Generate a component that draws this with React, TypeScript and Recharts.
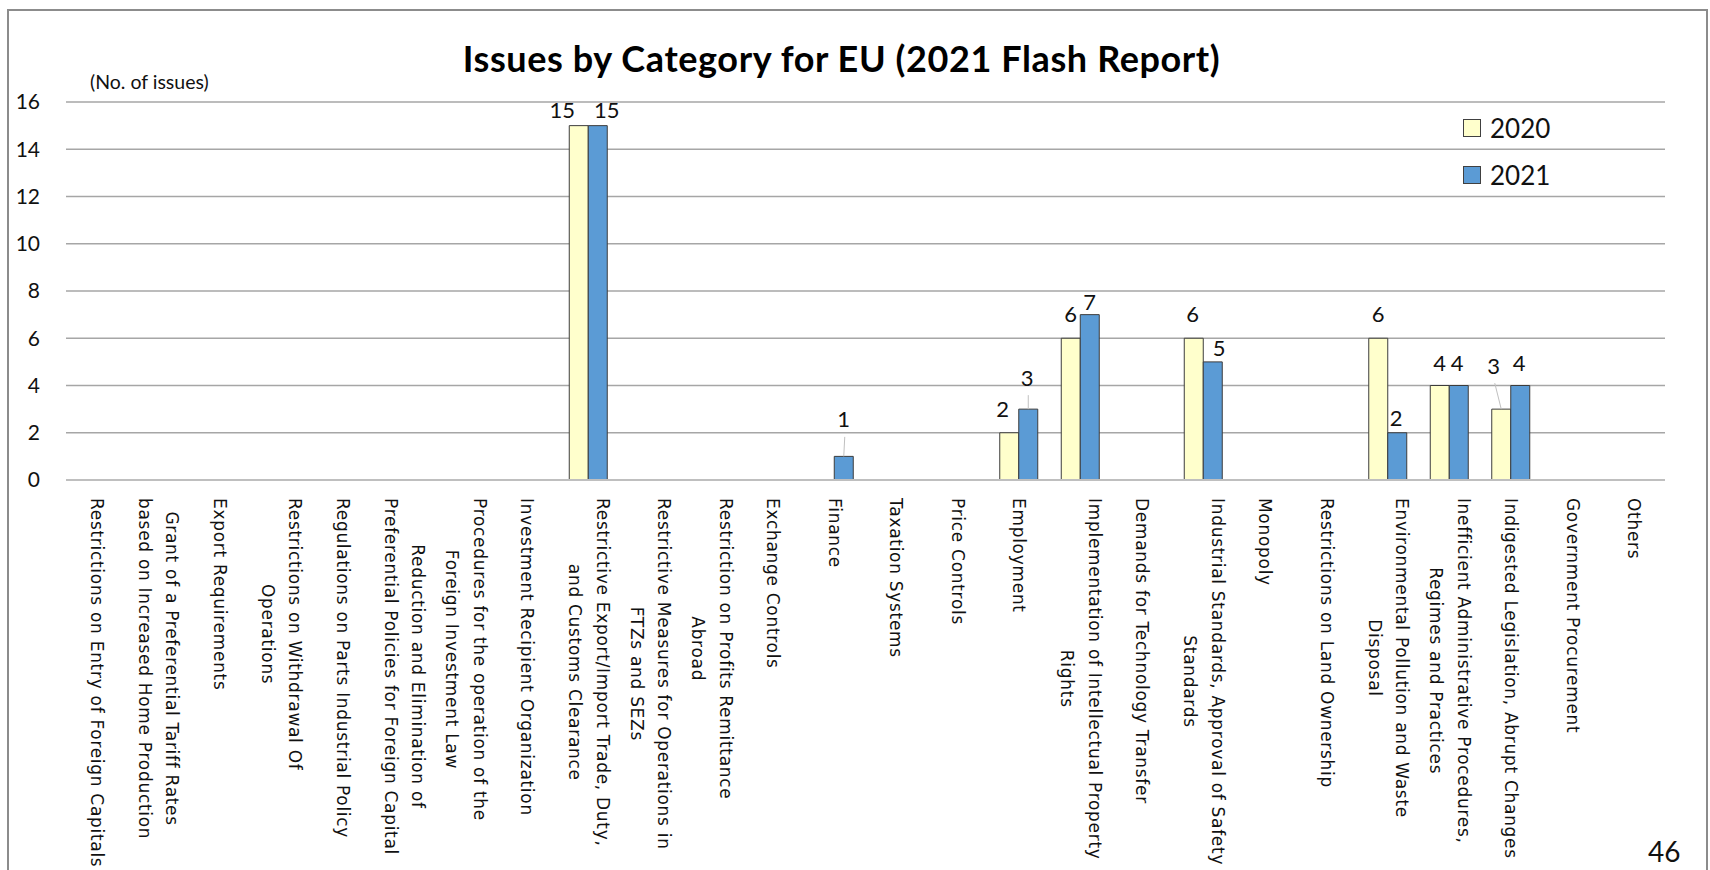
import React from "react";
import { BarChart, Bar, XAxis, YAxis, CartesianGrid, Legend, LabelList } from "recharts";

if (typeof document !== "undefined") {
  document.body.style.margin = "0";
  document.body.style.overflow = "hidden";
}

// ---------- data ----------
const categories: string[] = [
  "Restrictions on Entry of Foreign Capitals",
  "Grant of a Preferential Tariff Rates\nbased on Increased Home Production",
  "Export Requirements",
  "Restrictions on Withdrawal Of\nOperations",
  "Regulations on Parts Industrial Policy",
  "Reduction and Elimination of\nPreferential Policies for Foreign Capital",
  "Procedures for the operation of the\nForeign Investment Law",
  "Investment Recipient Organization",
  "Restrictive Export/Import Trade, Duty,\nand Customs Clearance",
  "Restrictive Measures for Operations in\nFTZs and SEZs",
  "Restriction on Profits Remittance\nAbroad",
  "Exchange Controls",
  "Finance",
  "Taxation Systems",
  "Price Controls",
  "Employment",
  "Implementation of Intellectual Property\nRights",
  "Demands for Technology Transfer",
  "Industrial Standards, Approval of Safety\nStandards",
  "Monopoly",
  "Restrictions on Land Ownership",
  "Environmental Pollution and Waste\nDisposal",
  "Inefficient Administrative Procedures,\nRegimes and Practices",
  "Indigested Legislation, Abrupt Changes",
  "Government Procurement",
  "Others",
];

const issues2020: number[] = [0, 0, 0, 0, 0, 0, 0, 0, 15, 0, 0, 0, 0, 0, 0, 2, 6, 0, 6, 0, 0, 6, 4, 3, 0, 0];
const issues2021: number[] = [0, 0, 0, 0, 0, 0, 0, 0, 15, 0, 0, 0, 1, 0, 0, 3, 7, 0, 5, 0, 0, 2, 4, 4, 0, 0];
const seriesNames: string[] = ["2020", "2021"];
const yTicks: number[] = [0, 2, 4, 6, 8, 10, 12, 14, 16];
const titleText = "Issues by Category for EU (2021 Flash Report)";
const unitText = "(No. of issues)";
const pageNumber = "46";

const data = categories.map((c, i) => ({ category: c, y2020: issues2020[i], y2021: issues2021[i] }));

// ---------- styles ----------
const COLORS = ["#FFFFCC", "#5B9BD5"];
const BAR_STROKE = "#3c3c3c";
const LABEL_FONT = "Lato, sans-serif";
const TICK_FONT_FAMILY = "'DejaVu Sans', sans-serif";
const TICK_FONT_SIZE = 17;
const TICK_LETTER_SPACING = 0.7;
const TICK_LINE_HEIGHT = 27.5;

// label nudges (relative to the bar top centre), key = "categoryIndex-seriesIndex"
const LABEL_NUDGES: Record<string, { dx: number; dy: number; leader?: boolean }> = {
  "8-0": { dx: -16.5, dy: -16.5 },
  "8-1": { dx: 9, dy: -16.5 },
  "12-1": { dx: 0, dy: -37.5, leader: true },
  "15-0": { dx: -6.5, dy: -24 },
  "15-1": { dx: -1, dy: -32, leader: true },
  "16-0": { dx: 0, dy: -25 },
  "16-1": { dx: 0, dy: -13 },
  "18-0": { dx: -1, dy: -25 },
  "18-1": { dx: 6.5, dy: -14 },
  "21-0": { dx: 0, dy: -25 },
  "21-1": { dx: -1, dy: -15 },
  "22-0": { dx: 0, dy: -23.5 },
  "22-1": { dx: -1.5, dy: -23.5 },
  "23-0": { dx: -7.5, dy: -44, leader: true },
  "23-1": { dx: -1, dy: -23.5 },
};

let measureCtx: CanvasRenderingContext2D | null = null;
function measure(text: string): number {
  if (!measureCtx && typeof document !== "undefined") {
    const c = document.createElement("canvas");
    measureCtx = c.getContext("2d");
  }
  if (!measureCtx) return text.length * TICK_FONT_SIZE * 0.6;
  measureCtx.font = `${TICK_FONT_SIZE}px 'DejaVu Sans'`;
  return measureCtx.measureText(text).width + TICK_LETTER_SPACING * text.length;
}

const XTick = (props: any) => {
  const { x, y, payload } = props;
  const lines: string[] = String(payload.value).split("\n");
  const maxW = Math.max(...lines.map(measure));
  const n = lines.length;
  return (
    <g transform={`translate(${x},${Number(y) + 18}) rotate(90)`}>
      {lines.map((ln, i) => (
        <text
          key={i}
          x={maxW / 2}
          y={(i - (n - 1) / 2) * TICK_LINE_HEIGHT}
          textAnchor="middle"
          dominantBaseline="central"
          fontFamily={TICK_FONT_FAMILY}
          fontSize={TICK_FONT_SIZE}
          letterSpacing={TICK_LETTER_SPACING}
          fill="#111"
        >
          {ln}
        </text>
      ))}
    </g>
  );
};

// label value is encoded as "categoryIndex|value" so that nudges can be looked up reliably
const labelKey = (field: "y2020" | "y2021") => (d: any) => `${categories.indexOf(d.category)}|${d[field]}`;

const makeLabel = (seriesIdx: number) => (props: any) => {
  const { x, y, width, value } = props;
  const [idxStr, valStr] = String(value).split("|");
  const v = Number(valStr);
  if (!v) return null;
  const nudge = LABEL_NUDGES[`${idxStr}-${seriesIdx}`] ?? { dx: 0, dy: -24 };
  const cx = Number(x) + Number(width) / 2;
  const top = Number(y);
  const lx = cx + nudge.dx;
  const ly = top + nudge.dy;
  return (
    <g key={`lbl-${seriesIdx}-${idxStr}`}>
      {nudge.leader && (
        <line x1={lx + 1} y1={ly + 18} x2={cx} y2={top} stroke="#c0c0c0" strokeWidth={1} />
      )}
      <text
        x={lx}
        y={ly}
        textAnchor="middle"
        dominantBaseline="central"
        fontFamily={LABEL_FONT}
        fontSize={22}
        fill="#111"
      >
        {v}
      </text>
    </g>
  );
};

const LegendContent = () => (
  <div style={{ display: "flex", flexDirection: "column", gap: 29 }}>
    {seriesNames.map((name, i) => (
      <div key={name} style={{ display: "flex", alignItems: "center", height: 18 }}>
        <div
          style={{
            width: 18,
            height: 18,
            boxSizing: "border-box",
            background: COLORS[i],
            border: "1px solid #404040",
            marginRight: 9,
          }}
        />
        <span style={{ fontFamily: LABEL_FONT, fontSize: 26, lineHeight: "18px", color: "#111" }}>{name}</span>
      </div>
    ))}
  </div>
);

export default function App() {
  return (
    <div style={{ position: "relative", width: 1710, height: 870, overflow: "hidden", background: "#fff" }}>
      <BarChart
        width={1710}
        height={870}
        data={data}
        margin={{ top: 102, right: 45, bottom: 0, left: 0 }}
        barCategoryGap="18.3%"
        barGap={0}
      >
        <CartesianGrid vertical={false} stroke="#a6a6a6" strokeWidth={1.3} />
        <XAxis
          dataKey="category"
          interval={0}
          height={390}
          tick={<XTick />}
          tickLine={false}
          tickSize={0}
          tickMargin={0}
          axisLine={{ stroke: "#bfbfbf", strokeWidth: 2 }}
        />
        <YAxis
          domain={[0, 16]}
          ticks={yTicks}
          interval={0}
          width={66}
          tickLine={false}
          axisLine={false}
          tickMargin={20}
          tick={{ fontSize: 21, fill: "#111", fontFamily: LABEL_FONT }}
        />
        <Legend
          layout="vertical"
          align="center"
          verticalAlign="middle"
          content={<LegendContent />}
          wrapperStyle={{ position: "absolute", left: 1463, top: 119, width: "auto", height: "auto" }}
        />
        <Bar dataKey="y2020" name={seriesNames[0]} fill={COLORS[0]} stroke={BAR_STROKE} strokeWidth={1} isAnimationActive={false}>
          <LabelList dataKey={labelKey("y2020")} content={makeLabel(0)} />
        </Bar>
        <Bar dataKey="y2021" name={seriesNames[1]} fill={COLORS[1]} stroke={BAR_STROKE} strokeWidth={1} isAnimationActive={false}>
          <LabelList dataKey={labelKey("y2021")} content={makeLabel(1)} />
        </Bar>
      </BarChart>

      {/* frame */}
      <div
        style={{
          position: "absolute",
          left: 7,
          top: 9,
          width: 1701,
          height: 900,
          boxSizing: "border-box",
          border: "2px solid #8c8c8c",
          pointerEvents: "none",
        }}
      />
      {/* title */}
      <div
        style={{
          position: "absolute",
          left: 841.5,
          top: 36.5,
          transform: "translateX(-50%)",
          whiteSpace: "nowrap",
          fontFamily: LABEL_FONT,
          fontWeight: 700,
          fontSize: 36,
          letterSpacing: 0.6,
          lineHeight: 1.2,
          color: "#000",
        }}
      >
        {titleText}
      </div>
      {/* unit */}
      <div
        style={{
          position: "absolute",
          left: 90,
          top: 70,
          whiteSpace: "nowrap",
          fontFamily: LABEL_FONT,
          fontSize: 19.5,
          lineHeight: 1.2,
          color: "#111",
        }}
      >
        {unitText}
      </div>
      {/* page number */}
      <div
        style={{
          position: "absolute",
          left: 1648,
          top: 835.4,
          fontFamily: LABEL_FONT,
          fontSize: 28,
          lineHeight: 1.2,
          color: "#111",
        }}
      >
        {pageNumber}
      </div>
    </div>
  );
}
